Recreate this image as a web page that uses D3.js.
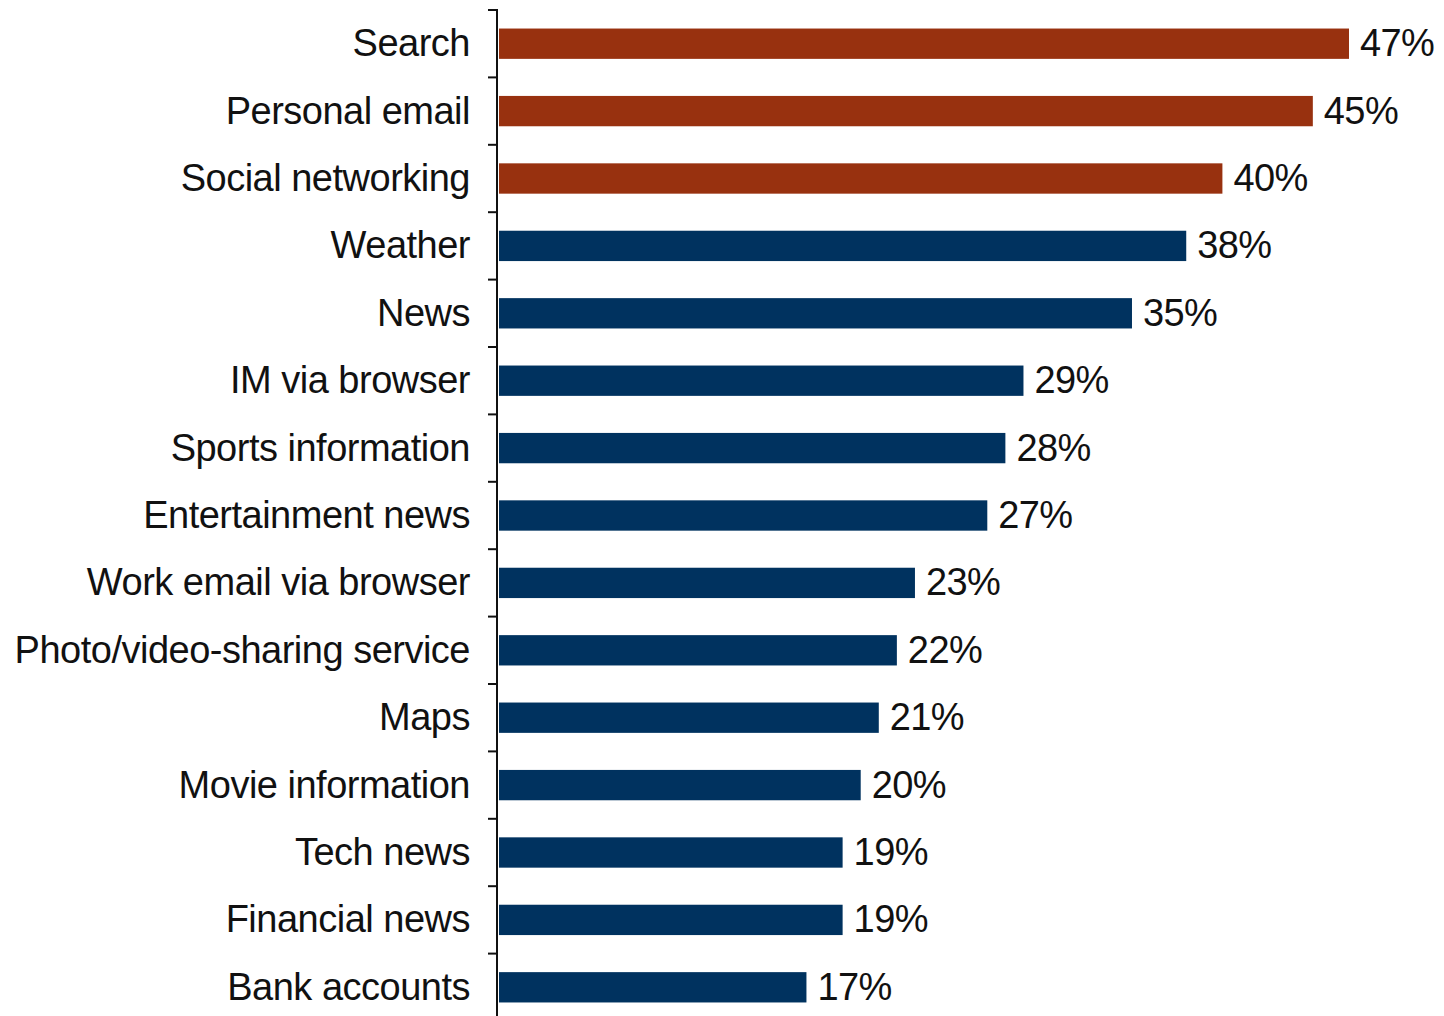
<!DOCTYPE html>
<html>
<head>
<meta charset="utf-8">
<script src="https://cdn.jsdelivr.net/npm/d3@7"></script>
<style>
  html, body { margin: 0; padding: 0; background: #fff; }
  svg { display: block; }
</style>
</head>
<body>
<svg id="chart" width="1444" height="1016"></svg>
<script>
// Share of users doing each activity (percent)
const categories = [
  "Search", "Personal email", "Social networking", "Weather", "News",
  "IM via browser", "Sports information", "Entertainment news",
  "Work email via browser", "Photo/video-sharing service", "Maps",
  "Movie information", "Tech news", "Financial news", "Bank accounts"
];
const values = [47, 45, 40, 38, 35, 29, 28, 27, 23, 22, 21, 20, 19, 19, 17];
// Top three activities are highlighted
const highlighted = ["Search", "Personal email", "Social networking"];

const svg = d3.select("#chart");
const axisX = 497;
const plotTop = 10;
const step = 67.4;

const y = d3.scaleBand()
  .domain(categories)
  .range([plotTop, plotTop + step * categories.length])
  .paddingInner(0.55)
  .paddingOuter(0.275);

const x = d3.scaleLinear()
  .domain([0, 47])
  .range([499, 1349]);

const rows = categories.map((c, i) => ({ name: c, value: values[i] }));

// Bars
svg.append("g").selectAll("rect")
  .data(rows)
  .join("rect")
  .attr("x", x(0))
  .attr("y", d => y(d.name))
  .attr("width", d => x(d.value) - x(0))
  .attr("height", y.bandwidth())
  .attr("fill", d => highlighted.includes(d.name) ? "#98310f" : "#00325f");

// Category axis with ticks between bands
const axis = svg.append("g");
axis.append("line")
  .attr("x1", axisX).attr("x2", axisX)
  .attr("y1", plotTop - 1).attr("y2", 1016)
  .attr("stroke", "#111").attr("stroke-width", 2);
axis.selectAll("line.tick")
  .data(d3.range(categories.length + 1))
  .join("line")
  .attr("class", "tick")
  .attr("x1", axisX - 9).attr("x2", axisX)
  .attr("y1", i => plotTop + i * step).attr("y2", i => plotTop + i * step)
  .attr("stroke", "#111").attr("stroke-width", 2);

// Category labels
svg.append("g").selectAll("text")
  .data(rows)
  .join("text")
  .attr("x", 470)
  .attr("y", d => y(d.name) + y.bandwidth() / 2)
  .attr("dy", "0.33em")
  .attr("text-anchor", "end")
  .attr("font-family", "Liberation Sans, Arial, sans-serif")
  .attr("font-size", 38)
  .attr("letter-spacing", "-0.5px")
  .attr("fill", "#111")
  .text(d => d.name);

// Value labels
svg.append("g").selectAll("text")
  .data(rows)
  .join("text")
  .attr("x", d => x(d.value) + 11)
  .attr("y", d => y(d.name) + y.bandwidth() / 2)
  .attr("dy", "0.33em")
  .attr("font-family", "Liberation Sans, Arial, sans-serif")
  .attr("font-size", 38)
  .attr("letter-spacing", "-0.6px")
  .attr("fill", "#111")
  .text(d => d.value + "%");
</script>
</body>
</html>
